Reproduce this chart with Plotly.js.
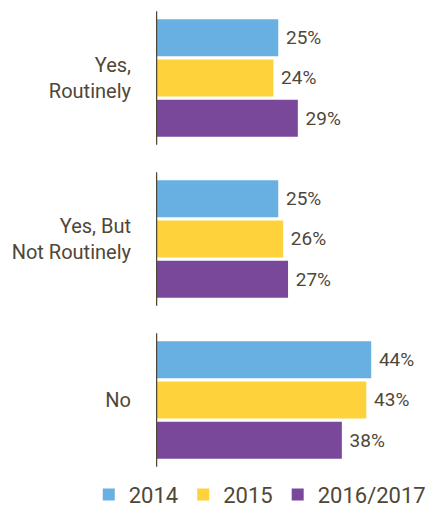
<!DOCTYPE html>
<html>
<head>
<meta charset="utf-8">
<script src="https://cdn.plot.ly/plotly-3.0.1.min.js"></script>
<style>html,body{margin:0;padding:0;background:#fff;}#chart{width:430px;height:512px;}</style>
</head>
<body>
<div id="chart"></div>
<script>
const categories = ["Yes,<br>Routinely", "Yes, But<br>Not Routinely", "No"];
const seriesNames = ["2014", "2015", "2016/2017"];
const values2014 = [25, 25, 44];
const values2015 = [24, 26, 43];
const values2016_2017 = [29, 27, 38];
const seriesValues = [values2014, values2015, values2016_2017];
const colors = ["#69b0e2", "#fed23a", "#7a489b"];
const textColor = "#4f4738";

const catIdx = categories.map((c, i) => i);

const traces = seriesNames.map((name, s) => ({
  type: "bar",
  orientation: "h",
  name: name,
  x: seriesValues[s],
  y: catIdx,
  marker: {color: colors[s]},
  text: seriesValues[s].map(v => "\u00a0" + v + "%"),
  textposition: "outside",
  textfont: {family: "Roboto", size: 19, color: textColor},
  cliponaxis: false,
  hoverinfo: "skip"
}));

const shapes = catIdx.map(i => ({
  type: "line", xref: "x", yref: "y",
  x0: 0, x1: 0, y0: i - 0.415, y1: i + 0.415,
  line: {color: textColor, width: 2.5}
}));

const layout = {
  width: 430, height: 512,
  margin: {l: 156, r: 5, t: 10, b: 42, autoexpand: false},
  paper_bgcolor: "#ffffff", plot_bgcolor: "#ffffff",
  barmode: "group",
  bargap: 0.25,
  bargroupgap: 0.08,
  showlegend: true,
  legend: {
    orientation: "h",
    xref: "paper", yref: "paper",
    x: -0.25, xanchor: "left", y: -0.008, yanchor: "top",
    font: {family: "Roboto", size: 22, color: textColor},
    traceorder: "normal",
    itemwidth: 30
  },
  xaxis: {
    range: [0, 55],
    visible: false,
    fixedrange: true
  },
  yaxis: {
    range: [2.435, -0.422],
    tickmode: "array",
    tickvals: catIdx,
    ticktext: categories,
    ticks: "outside",
    ticklen: 20,
    tickcolor: "rgba(0,0,0,0)",
    showline: false,
    showgrid: false,
    zeroline: false,
    tickfont: {family: "Roboto", size: 20, color: textColor}
  },
  shapes: shapes,
  font: {family: "Roboto", color: textColor}
};

Plotly.newPlot("chart", traces, layout, {displayModeBar: false, staticPlot: true});
</script>
</body>
</html>
